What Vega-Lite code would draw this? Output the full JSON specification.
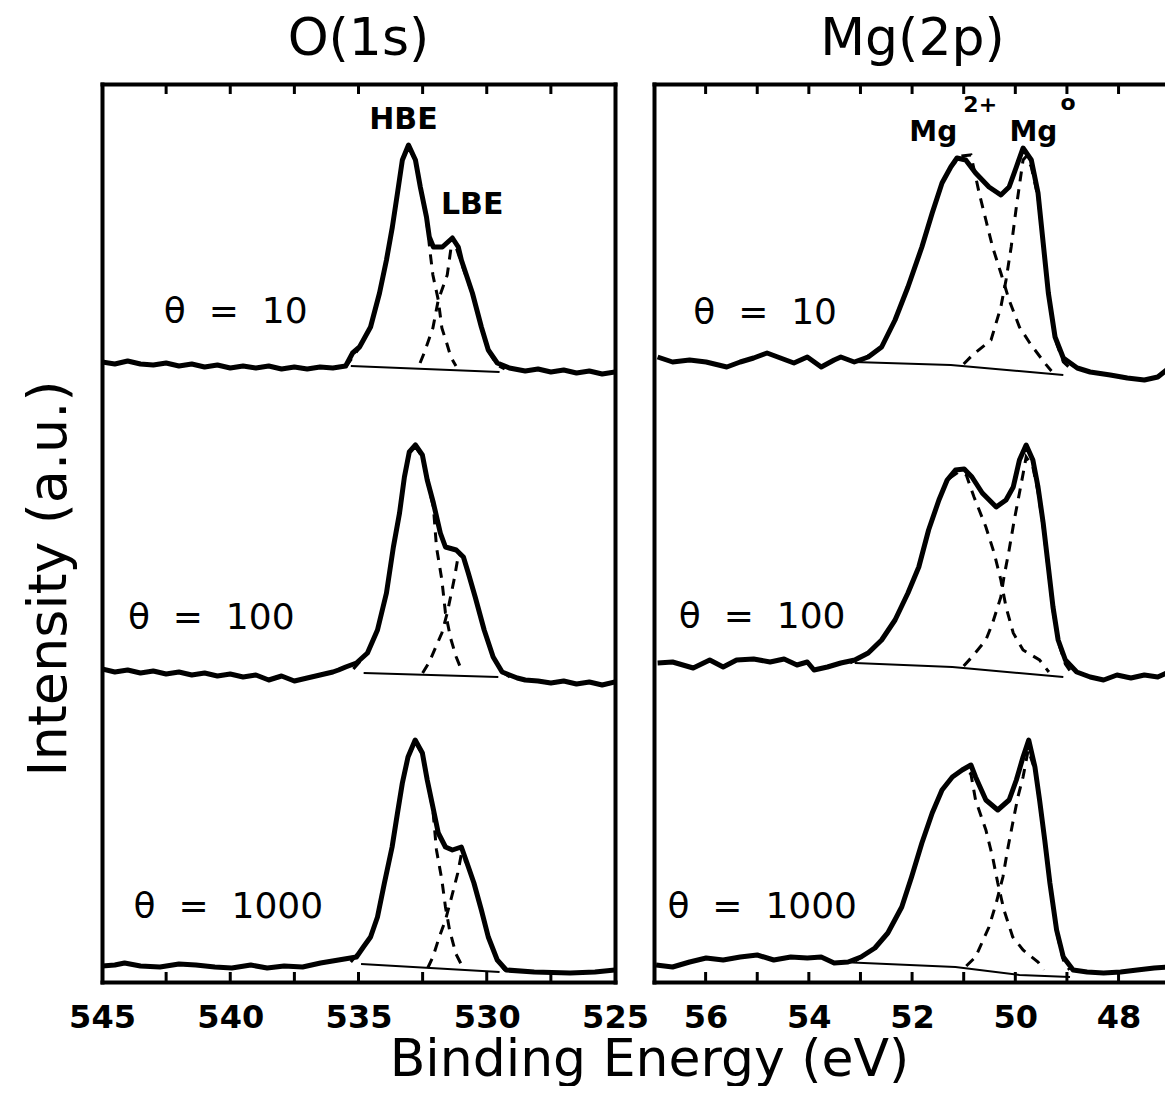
{
"$schema": "https://vega.github.io/schema/vega-lite/v6.json",
"background": "white",
"padding": {"left": 22, "top": 13, "right": 0, "bottom": 0},
"bounds": "flush",
"spacing": 39,
"config": {
  "view": {"stroke": null},
  "font": "DejaVu Sans",
  "axis": {"grid": false, "domainColor": "black", "domainWidth": 4, "domainCap": "square", "tickColor": "black", "tickWidth": 3, "labelColor": "black", "titleColor": "black"}
},
"title": {"text": "Binding Energy (eV)", "orient": "bottom", "anchor": "middle", "fontSize": 52, "fontWeight": "normal", "font": "DejaVu Sans", "color": "black", "offset": 2, "dx": 56},
"datasets": {
"O": [
{"theta":"10","series":"data","E":545,"I":620},{"theta":"10","series":"data","E":544.5,"I":618},{"theta":"10","series":"data","E":544,"I":621},{"theta":"10","series":"data","E":543.5,"I":618},{"theta":"10","series":"data","E":543,"I":617},{"theta":"10","series":"data","E":542.5,"I":619},{"theta":"10","series":"data","E":542,"I":616},{"theta":"10","series":"data","E":541.5,"I":618},{"theta":"10","series":"data","E":541,"I":615},{"theta":"10","series":"data","E":540.5,"I":617},{"theta":"10","series":"data","E":540,"I":614},{"theta":"10","series":"data","E":539.5,"I":616},{"theta":"10","series":"data","E":539,"I":614},{"theta":"10","series":"data","E":538.5,"I":616},{"theta":"10","series":"data","E":538,"I":613},{"theta":"10","series":"data","E":537.5,"I":615},{"theta":"10","series":"data","E":537,"I":613},{"theta":"10","series":"data","E":536.5,"I":615},{"theta":"10","series":"data","E":536,"I":614},{"theta":"10","series":"data","E":535.5,"I":616},{"theta":"10","series":"data","E":535.23,"I":629},{"theta":"10","series":"data","E":534.96,"I":635},{"theta":"10","series":"data","E":534.53,"I":655},{"theta":"10","series":"data","E":534.18,"I":689},{"theta":"10","series":"data","E":533.91,"I":722},{"theta":"10","series":"data","E":533.68,"I":755},{"theta":"10","series":"data","E":533.48,"I":789},{"theta":"10","series":"data","E":533.29,"I":822},{"theta":"10","series":"data","E":533.05,"I":837},{"theta":"10","series":"data","E":532.78,"I":822},{"theta":"10","series":"data","E":532.59,"I":795},{"theta":"10","series":"data","E":532.35,"I":765},{"theta":"10","series":"data","E":532.24,"I":745},{"theta":"10","series":"data","E":532.08,"I":735},{"theta":"10","series":"data","E":531.73,"I":735},{"theta":"10","series":"data","E":531.34,"I":744},{"theta":"10","series":"data","E":531.11,"I":735},{"theta":"10","series":"data","E":530.99,"I":722},{"theta":"10","series":"data","E":530.56,"I":689},{"theta":"10","series":"data","E":530.21,"I":655},{"theta":"10","series":"data","E":529.94,"I":632},{"theta":"10","series":"data","E":529.59,"I":619},{"theta":"10","series":"data","E":529.12,"I":614},{"theta":"10","series":"data","E":528.5,"I":611},{"theta":"10","series":"data","E":528,"I":613},{"theta":"10","series":"data","E":527.5,"I":610},{"theta":"10","series":"data","E":527,"I":612},{"theta":"10","series":"data","E":526.5,"I":609},{"theta":"10","series":"data","E":526,"I":611},{"theta":"10","series":"data","E":525.5,"I":608},{"theta":"10","series":"data","E":525,"I":610},
{"theta":"10","series":"bg","E":535.3,"I":616},{"theta":"10","series":"bg","E":529.5,"I":610},
{"theta":"10","series":"c1","E":535.5,"I":615},{"theta":"10","series":"c1","E":535.0,"I":633},{"theta":"10","series":"c1","E":534.53,"I":655},{"theta":"10","series":"c1","E":534.18,"I":689},{"theta":"10","series":"c1","E":533.91,"I":722},{"theta":"10","series":"c1","E":533.68,"I":755},{"theta":"10","series":"c1","E":533.48,"I":789},{"theta":"10","series":"c1","E":533.29,"I":822},{"theta":"10","series":"c1","E":533.05,"I":835},{"theta":"10","series":"c1","E":532.78,"I":821},{"theta":"10","series":"c1","E":532.59,"I":794},{"theta":"10","series":"c1","E":532.35,"I":763},{"theta":"10","series":"c1","E":532.2,"I":728},{"theta":"10","series":"c1","E":532.1,"I":707},{"theta":"10","series":"c1","E":531.89,"I":682},{"theta":"10","series":"c1","E":531.75,"I":654},{"theta":"10","series":"c1","E":531.55,"I":638},{"theta":"10","series":"c1","E":531.4,"I":625},{"theta":"10","series":"c1","E":531.2,"I":616},
{"theta":"10","series":"c2","E":532.6,"I":619},{"theta":"10","series":"c2","E":532.44,"I":629},{"theta":"10","series":"c2","E":532.1,"I":654},{"theta":"10","series":"c2","E":531.89,"I":682},{"theta":"10","series":"c2","E":531.54,"I":707},{"theta":"10","series":"c2","E":531.4,"I":733},{"theta":"10","series":"c2","E":531.2,"I":735},{"theta":"10","series":"c2","E":530.99,"I":719},{"theta":"10","series":"c2","E":530.56,"I":688},{"theta":"10","series":"c2","E":530.21,"I":654},{"theta":"10","series":"c2","E":529.94,"I":631},{"theta":"10","series":"c2","E":529.59,"I":617},{"theta":"10","series":"c2","E":529.3,"I":613},
{"theta":"100","series":"data","E":545,"I":313},{"theta":"100","series":"data","E":544.5,"I":310},{"theta":"100","series":"data","E":544,"I":312},{"theta":"100","series":"data","E":543.5,"I":309},{"theta":"100","series":"data","E":543,"I":311},{"theta":"100","series":"data","E":542.5,"I":308},{"theta":"100","series":"data","E":542,"I":310},{"theta":"100","series":"data","E":541.5,"I":307},{"theta":"100","series":"data","E":541,"I":309},{"theta":"100","series":"data","E":540.5,"I":306},{"theta":"100","series":"data","E":540,"I":308},{"theta":"100","series":"data","E":539.5,"I":305},{"theta":"100","series":"data","E":539,"I":307},{"theta":"100","series":"data","E":538.5,"I":302},{"theta":"100","series":"data","E":538,"I":306},{"theta":"100","series":"data","E":537.5,"I":301},{"theta":"100","series":"data","E":537,"I":304},{"theta":"100","series":"data","E":536.5,"I":307},{"theta":"100","series":"data","E":536,"I":310},{"theta":"100","series":"data","E":535.78,"I":312},{"theta":"100","series":"data","E":535.5,"I":315},{"theta":"100","series":"data","E":535.08,"I":319},{"theta":"100","series":"data","E":534.65,"I":329},{"theta":"100","series":"data","E":534.26,"I":352},{"theta":"100","series":"data","E":533.91,"I":389},{"theta":"100","series":"data","E":533.64,"I":435},{"theta":"100","series":"data","E":533.4,"I":469},{"theta":"100","series":"data","E":533.21,"I":505},{"theta":"100","series":"data","E":533.02,"I":530},{"theta":"100","series":"data","E":532.78,"I":537},{"theta":"100","series":"data","E":532.51,"I":527},{"theta":"100","series":"data","E":532.32,"I":502},{"theta":"100","series":"data","E":532.08,"I":479},{"theta":"100","series":"data","E":531.81,"I":449},{"theta":"100","series":"data","E":531.61,"I":435},{"theta":"100","series":"data","E":531.19,"I":432},{"theta":"100","series":"data","E":530.91,"I":425},{"theta":"100","series":"data","E":530.72,"I":409},{"theta":"100","series":"data","E":530.45,"I":385},{"theta":"100","series":"data","E":530.1,"I":352},{"theta":"100","series":"data","E":529.75,"I":325},{"theta":"100","series":"data","E":529.4,"I":310},{"theta":"100","series":"data","E":528.81,"I":304},{"theta":"100","series":"data","E":528.5,"I":302},{"theta":"100","series":"data","E":528,"I":301},{"theta":"100","series":"data","E":527.5,"I":299},{"theta":"100","series":"data","E":527,"I":301},{"theta":"100","series":"data","E":526.5,"I":298},{"theta":"100","series":"data","E":526,"I":300},{"theta":"100","series":"data","E":525.5,"I":297},{"theta":"100","series":"data","E":525,"I":300},
{"theta":"100","series":"bg","E":534.8,"I":309},{"theta":"100","series":"bg","E":529.55,"I":305},
{"theta":"100","series":"c1","E":535.2,"I":313},{"theta":"100","series":"c1","E":534.65,"I":329},{"theta":"100","series":"c1","E":534.26,"I":352},{"theta":"100","series":"c1","E":533.91,"I":389},{"theta":"100","series":"c1","E":533.64,"I":435},{"theta":"100","series":"c1","E":533.4,"I":469},{"theta":"100","series":"c1","E":533.21,"I":505},{"theta":"100","series":"c1","E":533.02,"I":530},{"theta":"100","series":"c1","E":532.78,"I":535},{"theta":"100","series":"c1","E":532.51,"I":525},{"theta":"100","series":"c1","E":532.32,"I":501},{"theta":"100","series":"c1","E":532.08,"I":475},{"theta":"100","series":"c1","E":531.96,"I":435},{"theta":"100","series":"c1","E":531.75,"I":402},{"theta":"100","series":"c1","E":531.61,"I":369},{"theta":"100","series":"c1","E":531.4,"I":343},{"theta":"100","series":"c1","E":531.19,"I":325},{"theta":"100","series":"c1","E":531.0,"I":313},
{"theta":"100","series":"c2","E":532.5,"I":309},{"theta":"100","series":"c2","E":532.24,"I":320},{"theta":"100","series":"c2","E":531.75,"I":349},{"theta":"100","series":"c2","E":531.54,"I":369},{"theta":"100","series":"c2","E":531.26,"I":404},{"theta":"100","series":"c2","E":531.1,"I":428},{"theta":"100","series":"c2","E":530.91,"I":425},{"theta":"100","series":"c2","E":530.72,"I":409},{"theta":"100","series":"c2","E":530.45,"I":385},{"theta":"100","series":"c2","E":530.1,"I":352},{"theta":"100","series":"c2","E":529.75,"I":325},{"theta":"100","series":"c2","E":529.4,"I":310},{"theta":"100","series":"c2","E":529.1,"I":305},
{"theta":"1000","series":"data","E":545,"I":16},{"theta":"1000","series":"data","E":544.5,"I":17},{"theta":"1000","series":"data","E":544.12,"I":19},{"theta":"1000","series":"data","E":543.5,"I":16},{"theta":"1000","series":"data","E":542.74,"I":15},{"theta":"1000","series":"data","E":542,"I":18},{"theta":"1000","series":"data","E":541.34,"I":17},{"theta":"1000","series":"data","E":540.6,"I":15},{"theta":"1000","series":"data","E":539.94,"I":14},{"theta":"1000","series":"data","E":539.2,"I":17},{"theta":"1000","series":"data","E":538.56,"I":14},{"theta":"1000","series":"data","E":537.9,"I":16},{"theta":"1000","series":"data","E":537.18,"I":15},{"theta":"1000","series":"data","E":536.48,"I":19},{"theta":"1000","series":"data","E":535.78,"I":22},{"theta":"1000","series":"data","E":535.08,"I":25},{"theta":"1000","series":"data","E":534.81,"I":35},{"theta":"1000","series":"data","E":534.53,"I":45},{"theta":"1000","series":"data","E":534.26,"I":65},{"theta":"1000","series":"data","E":533.99,"I":99},{"theta":"1000","series":"data","E":533.69,"I":135},{"theta":"1000","series":"data","E":533.48,"I":169},{"theta":"1000","series":"data","E":533.29,"I":199},{"theta":"1000","series":"data","E":533.07,"I":225},{"theta":"1000","series":"data","E":532.79,"I":242},{"theta":"1000","series":"data","E":532.51,"I":229},{"theta":"1000","series":"data","E":532.32,"I":202},{"theta":"1000","series":"data","E":532.1,"I":175},{"theta":"1000","series":"data","E":531.89,"I":149},{"theta":"1000","series":"data","E":531.61,"I":135},{"theta":"1000","series":"data","E":531.34,"I":132},{"theta":"1000","series":"data","E":530.99,"I":135},{"theta":"1000","series":"data","E":530.77,"I":119},{"theta":"1000","series":"data","E":530.5,"I":99},{"theta":"1000","series":"data","E":530.21,"I":72},{"theta":"1000","series":"data","E":529.94,"I":45},{"theta":"1000","series":"data","E":529.59,"I":22},{"theta":"1000","series":"data","E":529.24,"I":12},{"theta":"1000","series":"data","E":528.15,"I":10},{"theta":"1000","series":"data","E":526.75,"I":9},{"theta":"1000","series":"data","E":525.78,"I":10},{"theta":"1000","series":"data","E":525,"I":12},
{"theta":"1000","series":"bg","E":534.9,"I":18},{"theta":"1000","series":"bg","E":529.5,"I":10},
{"theta":"1000","series":"c1","E":535.3,"I":20},{"theta":"1000","series":"c1","E":534.81,"I":35},{"theta":"1000","series":"c1","E":534.53,"I":45},{"theta":"1000","series":"c1","E":534.26,"I":65},{"theta":"1000","series":"c1","E":533.99,"I":99},{"theta":"1000","series":"c1","E":533.69,"I":135},{"theta":"1000","series":"c1","E":533.48,"I":169},{"theta":"1000","series":"c1","E":533.29,"I":199},{"theta":"1000","series":"c1","E":533.07,"I":225},{"theta":"1000","series":"c1","E":532.79,"I":240},{"theta":"1000","series":"c1","E":532.51,"I":228},{"theta":"1000","series":"c1","E":532.32,"I":201},{"theta":"1000","series":"c1","E":532.1,"I":172},{"theta":"1000","series":"c1","E":531.96,"I":132},{"theta":"1000","series":"c1","E":531.75,"I":102},{"theta":"1000","series":"c1","E":531.61,"I":75},{"theta":"1000","series":"c1","E":531.45,"I":52},{"theta":"1000","series":"c1","E":531.2,"I":28},{"theta":"1000","series":"c1","E":531.0,"I":18},
{"theta":"1000","series":"c2","E":532.3,"I":14},{"theta":"1000","series":"c2","E":532.1,"I":25},{"theta":"1000","series":"c2","E":531.85,"I":45},{"theta":"1000","series":"c2","E":531.61,"I":62},{"theta":"1000","series":"c2","E":531.4,"I":82},{"theta":"1000","series":"c2","E":531.13,"I":109},{"theta":"1000","series":"c2","E":530.99,"I":128},{"theta":"1000","series":"c2","E":530.77,"I":118},{"theta":"1000","series":"c2","E":530.5,"I":99},{"theta":"1000","series":"c2","E":530.21,"I":72},{"theta":"1000","series":"c2","E":529.94,"I":45},{"theta":"1000","series":"c2","E":529.59,"I":22},{"theta":"1000","series":"c2","E":529.3,"I":12}
],
"Mg": [
{"theta":"10","series":"data","E":56.93,"I":625},{"theta":"10","series":"data","E":56.64,"I":620},{"theta":"10","series":"data","E":56.31,"I":622},{"theta":"10","series":"data","E":55.99,"I":620},{"theta":"10","series":"data","E":55.59,"I":615},{"theta":"10","series":"data","E":55.33,"I":620},{"theta":"10","series":"data","E":55.07,"I":624},{"theta":"10","series":"data","E":54.81,"I":629},{"theta":"10","series":"data","E":54.55,"I":624},{"theta":"10","series":"data","E":54.29,"I":619},{"theta":"10","series":"data","E":54.03,"I":625},{"theta":"10","series":"data","E":53.76,"I":615},{"theta":"10","series":"data","E":53.51,"I":622},{"theta":"10","series":"data","E":53.38,"I":625},{"theta":"10","series":"data","E":53.12,"I":620},{"theta":"10","series":"data","E":52.85,"I":625},{"theta":"10","series":"data","E":52.59,"I":635},{"theta":"10","series":"data","E":52.33,"I":662},{"theta":"10","series":"data","E":52.08,"I":695},{"theta":"10","series":"data","E":51.81,"I":735},{"theta":"10","series":"data","E":51.61,"I":769},{"theta":"10","series":"data","E":51.42,"I":799},{"theta":"10","series":"data","E":51.25,"I":815},{"theta":"10","series":"data","E":51.13,"I":824},{"theta":"10","series":"data","E":50.96,"I":822},{"theta":"10","series":"data","E":50.77,"I":809},{"theta":"10","series":"data","E":50.51,"I":795},{"theta":"10","series":"data","E":50.28,"I":787},{"theta":"10","series":"data","E":50.12,"I":795},{"theta":"10","series":"data","E":49.98,"I":815},{"theta":"10","series":"data","E":49.85,"I":834},{"theta":"10","series":"data","E":49.69,"I":822},{"theta":"10","series":"data","E":49.56,"I":789},{"theta":"10","series":"data","E":49.46,"I":739},{"theta":"10","series":"data","E":49.36,"I":689},{"theta":"10","series":"data","E":49.23,"I":645},{"theta":"10","series":"data","E":49.07,"I":624},{"theta":"10","series":"data","E":48.8,"I":614},{"theta":"10","series":"data","E":48.55,"I":610},{"theta":"10","series":"data","E":48.16,"I":607},{"theta":"10","series":"data","E":47.83,"I":604},{"theta":"10","series":"data","E":47.5,"I":602},{"theta":"10","series":"data","E":47.24,"I":605},{"theta":"10","series":"data","E":47.07,"I":612},
{"theta":"10","series":"bg","E":53.12,"I":620},{"theta":"10","series":"bg","E":51.25,"I":617},{"theta":"10","series":"bg","E":49.07,"I":607},
{"theta":"10","series":"c1","E":53.0,"I":621},{"theta":"10","series":"c1","E":52.59,"I":635},{"theta":"10","series":"c1","E":52.33,"I":662},{"theta":"10","series":"c1","E":52.08,"I":695},{"theta":"10","series":"c1","E":51.81,"I":735},{"theta":"10","series":"c1","E":51.61,"I":769},{"theta":"10","series":"c1","E":51.42,"I":799},{"theta":"10","series":"c1","E":51.25,"I":815},{"theta":"10","series":"c1","E":51.05,"I":826},{"theta":"10","series":"c1","E":50.86,"I":827},{"theta":"10","series":"c1","E":50.7,"I":789},{"theta":"10","series":"c1","E":50.57,"I":762},{"theta":"10","series":"c1","E":50.44,"I":735},{"theta":"10","series":"c1","E":50.28,"I":709},{"theta":"10","series":"c1","E":50.12,"I":682},{"theta":"10","series":"c1","E":49.92,"I":655},{"theta":"10","series":"c1","E":49.72,"I":639},{"theta":"10","series":"c1","E":49.43,"I":619},{"theta":"10","series":"c1","E":49.3,"I":611},
{"theta":"10","series":"c2","E":51.0,"I":618},{"theta":"10","series":"c2","E":50.83,"I":627},{"theta":"10","series":"c2","E":50.47,"I":642},{"theta":"10","series":"c2","E":50.28,"I":675},{"theta":"10","series":"c2","E":50.18,"I":702},{"theta":"10","series":"c2","E":50.08,"I":735},{"theta":"10","series":"c2","E":49.98,"I":775},{"theta":"10","series":"c2","E":49.85,"I":822},{"theta":"10","series":"c2","E":49.78,"I":826},{"theta":"10","series":"c2","E":49.69,"I":815},{"theta":"10","series":"c2","E":49.56,"I":785},{"theta":"10","series":"c2","E":49.46,"I":737},{"theta":"10","series":"c2","E":49.36,"I":688},{"theta":"10","series":"c2","E":49.23,"I":643},{"theta":"10","series":"c2","E":49.07,"I":620},{"theta":"10","series":"c2","E":48.9,"I":612},
{"theta":"100","series":"data","E":56.93,"I":319},{"theta":"100","series":"data","E":56.64,"I":320},{"theta":"100","series":"data","E":56.24,"I":314},{"theta":"100","series":"data","E":55.92,"I":322},{"theta":"100","series":"data","E":55.66,"I":315},{"theta":"100","series":"data","E":55.4,"I":322},{"theta":"100","series":"data","E":55.07,"I":323},{"theta":"100","series":"data","E":54.75,"I":320},{"theta":"100","series":"data","E":54.48,"I":323},{"theta":"100","series":"data","E":54.23,"I":317},{"theta":"100","series":"data","E":54.03,"I":320},{"theta":"100","series":"data","E":53.9,"I":312},{"theta":"100","series":"data","E":53.64,"I":315},{"theta":"100","series":"data","E":53.38,"I":319},{"theta":"100","series":"data","E":53.11,"I":322},{"theta":"100","series":"data","E":52.85,"I":329},{"theta":"100","series":"data","E":52.59,"I":342},{"theta":"100","series":"data","E":52.33,"I":362},{"theta":"100","series":"data","E":52.08,"I":389},{"theta":"100","series":"data","E":51.87,"I":415},{"theta":"100","series":"data","E":51.68,"I":452},{"theta":"100","series":"data","E":51.48,"I":482},{"theta":"100","series":"data","E":51.32,"I":502},{"theta":"100","series":"data","E":51.16,"I":512},{"theta":"100","series":"data","E":50.99,"I":513},{"theta":"100","series":"data","E":50.84,"I":505},{"theta":"100","series":"data","E":50.64,"I":489},{"theta":"100","series":"data","E":50.37,"I":475},{"theta":"100","series":"data","E":50.18,"I":482},{"theta":"100","series":"data","E":50.04,"I":495},{"theta":"100","series":"data","E":49.92,"I":522},{"theta":"100","series":"data","E":49.79,"I":537},{"theta":"100","series":"data","E":49.66,"I":522},{"theta":"100","series":"data","E":49.56,"I":495},{"theta":"100","series":"data","E":49.46,"I":459},{"theta":"100","series":"data","E":49.36,"I":415},{"theta":"100","series":"data","E":49.27,"I":375},{"theta":"100","series":"data","E":49.17,"I":342},{"theta":"100","series":"data","E":49.03,"I":322},{"theta":"100","series":"data","E":48.81,"I":310},{"theta":"100","series":"data","E":48.55,"I":305},{"theta":"100","series":"data","E":48.29,"I":302},{"theta":"100","series":"data","E":48.03,"I":307},{"theta":"100","series":"data","E":47.76,"I":304},{"theta":"100","series":"data","E":47.5,"I":307},{"theta":"100","series":"data","E":47.24,"I":305},{"theta":"100","series":"data","E":47.07,"I":309},
{"theta":"100","series":"bg","E":53.11,"I":319},{"theta":"100","series":"bg","E":51.22,"I":315},{"theta":"100","series":"bg","E":49.07,"I":305},
{"theta":"100","series":"c1","E":53.2,"I":319},{"theta":"100","series":"c1","E":52.85,"I":329},{"theta":"100","series":"c1","E":52.59,"I":342},{"theta":"100","series":"c1","E":52.33,"I":362},{"theta":"100","series":"c1","E":52.08,"I":389},{"theta":"100","series":"c1","E":51.87,"I":415},{"theta":"100","series":"c1","E":51.68,"I":452},{"theta":"100","series":"c1","E":51.48,"I":482},{"theta":"100","series":"c1","E":51.32,"I":502},{"theta":"100","series":"c1","E":51.1,"I":510},{"theta":"100","series":"c1","E":50.95,"I":507},{"theta":"100","series":"c1","E":50.8,"I":485},{"theta":"100","series":"c1","E":50.57,"I":455},{"theta":"100","series":"c1","E":50.41,"I":429},{"theta":"100","series":"c1","E":50.28,"I":402},{"theta":"100","series":"c1","E":50.18,"I":375},{"theta":"100","series":"c1","E":50.04,"I":349},{"theta":"100","series":"c1","E":49.85,"I":332},{"theta":"100","series":"c1","E":49.53,"I":322},{"theta":"100","series":"c1","E":49.35,"I":310},
{"theta":"100","series":"c2","E":51.0,"I":316},{"theta":"100","series":"c2","E":50.84,"I":325},{"theta":"100","series":"c2","E":50.57,"I":342},{"theta":"100","series":"c2","E":50.44,"I":359},{"theta":"100","series":"c2","E":50.28,"I":385},{"theta":"100","series":"c2","E":50.22,"I":405},{"theta":"100","series":"c2","E":50.12,"I":432},{"theta":"100","series":"c2","E":50.02,"I":462},{"theta":"100","series":"c2","E":49.92,"I":489},{"theta":"100","series":"c2","E":49.85,"I":508},{"theta":"100","series":"c2","E":49.79,"I":525},{"theta":"100","series":"c2","E":49.66,"I":515},{"theta":"100","series":"c2","E":49.56,"I":490},{"theta":"100","series":"c2","E":49.46,"I":455},{"theta":"100","series":"c2","E":49.36,"I":412},{"theta":"100","series":"c2","E":49.27,"I":372},{"theta":"100","series":"c2","E":49.17,"I":340},{"theta":"100","series":"c2","E":49.03,"I":318},{"theta":"100","series":"c2","E":48.9,"I":308},
{"theta":"1000","series":"data","E":56.96,"I":17},{"theta":"1000","series":"data","E":56.64,"I":15},{"theta":"1000","series":"data","E":56.31,"I":20},{"theta":"1000","series":"data","E":55.99,"I":24},{"theta":"1000","series":"data","E":55.66,"I":22},{"theta":"1000","series":"data","E":55.33,"I":25},{"theta":"1000","series":"data","E":55.0,"I":27},{"theta":"1000","series":"data","E":54.68,"I":22},{"theta":"1000","series":"data","E":54.35,"I":25},{"theta":"1000","series":"data","E":54.03,"I":24},{"theta":"1000","series":"data","E":53.76,"I":25},{"theta":"1000","series":"data","E":53.51,"I":19},{"theta":"1000","series":"data","E":53.24,"I":20},{"theta":"1000","series":"data","E":52.99,"I":25},{"theta":"1000","series":"data","E":52.72,"I":34},{"theta":"1000","series":"data","E":52.47,"I":49},{"theta":"1000","series":"data","E":52.2,"I":75},{"theta":"1000","series":"data","E":52.01,"I":105},{"theta":"1000","series":"data","E":51.81,"I":139},{"theta":"1000","series":"data","E":51.61,"I":169},{"theta":"1000","series":"data","E":51.42,"I":192},{"theta":"1000","series":"data","E":51.22,"I":205},{"theta":"1000","series":"data","E":51.03,"I":212},{"theta":"1000","series":"data","E":50.86,"I":217},{"theta":"1000","series":"data","E":50.77,"I":205},{"theta":"1000","series":"data","E":50.57,"I":182},{"theta":"1000","series":"data","E":50.34,"I":172},{"theta":"1000","series":"data","E":50.12,"I":182},{"theta":"1000","series":"data","E":49.98,"I":202},{"theta":"1000","series":"data","E":49.85,"I":225},{"theta":"1000","series":"data","E":49.74,"I":242},{"theta":"1000","series":"data","E":49.62,"I":215},{"theta":"1000","series":"data","E":49.53,"I":182},{"theta":"1000","series":"data","E":49.43,"I":142},{"theta":"1000","series":"data","E":49.33,"I":99},{"theta":"1000","series":"data","E":49.2,"I":52},{"theta":"1000","series":"data","E":49.07,"I":25},{"theta":"1000","series":"data","E":48.88,"I":12},{"theta":"1000","series":"data","E":48.61,"I":10},{"theta":"1000","series":"data","E":48.29,"I":9},{"theta":"1000","series":"data","E":47.96,"I":10},{"theta":"1000","series":"data","E":47.64,"I":12},{"theta":"1000","series":"data","E":47.31,"I":14},{"theta":"1000","series":"data","E":47.06,"I":15},
{"theta":"1000","series":"bg","E":53.38,"I":20},{"theta":"1000","series":"bg","E":51.16,"I":15},{"theta":"1000","series":"bg","E":49.92,"I":7},{"theta":"1000","series":"bg","E":48.94,"I":5},
{"theta":"1000","series":"c1","E":53.1,"I":21},{"theta":"1000","series":"c1","E":52.72,"I":34},{"theta":"1000","series":"c1","E":52.47,"I":49},{"theta":"1000","series":"c1","E":52.2,"I":75},{"theta":"1000","series":"c1","E":52.01,"I":105},{"theta":"1000","series":"c1","E":51.81,"I":139},{"theta":"1000","series":"c1","E":51.61,"I":169},{"theta":"1000","series":"c1","E":51.42,"I":192},{"theta":"1000","series":"c1","E":51.22,"I":205},{"theta":"1000","series":"c1","E":50.98,"I":213},{"theta":"1000","series":"c1","E":50.86,"I":208},{"theta":"1000","series":"c1","E":50.77,"I":182},{"theta":"1000","series":"c1","E":50.57,"I":152},{"theta":"1000","series":"c1","E":50.44,"I":125},{"theta":"1000","series":"c1","E":50.34,"I":99},{"theta":"1000","series":"c1","E":50.22,"I":72},{"theta":"1000","series":"c1","E":50.05,"I":45},{"theta":"1000","series":"c1","E":49.85,"I":32},{"theta":"1000","series":"c1","E":49.56,"I":20},{"theta":"1000","series":"c1","E":49.45,"I":12},
{"theta":"1000","series":"c2","E":50.95,"I":16},{"theta":"1000","series":"c2","E":50.77,"I":25},{"theta":"1000","series":"c2","E":50.51,"I":55},{"theta":"1000","series":"c2","E":50.37,"I":79},{"theta":"1000","series":"c2","E":50.24,"I":105},{"theta":"1000","series":"c2","E":50.14,"I":135},{"theta":"1000","series":"c2","E":50.05,"I":159},{"theta":"1000","series":"c2","E":49.95,"I":185},{"theta":"1000","series":"c2","E":49.85,"I":205},{"theta":"1000","series":"c2","E":49.75,"I":232},{"theta":"1000","series":"c2","E":49.62,"I":212},{"theta":"1000","series":"c2","E":49.53,"I":180},{"theta":"1000","series":"c2","E":49.43,"I":140},{"theta":"1000","series":"c2","E":49.33,"I":98},{"theta":"1000","series":"c2","E":49.2,"I":50},{"theta":"1000","series":"c2","E":49.07,"I":22},{"theta":"1000","series":"c2","E":48.95,"I":12}
],
"Olab": [
{"kind":"peak","text":"HBE","E":533.25,"I":862},
{"kind":"peak","text":"LBE","E":530.57,"I":777},
{"kind":"theta","text":"θ\u00a0\u00a0=\u00a0\u00a010","E":542.59,"I":670},
{"kind":"theta","text":"θ\u00a0\u00a0=\u00a0\u00a0100","E":543.99,"I":364},
{"kind":"theta","text":"θ\u00a0\u00a0=\u00a0\u00a01000","E":543.77,"I":75}
],
"Mglab": [
{"kind":"peak","text":"Mg","E":51.59,"I":849},
{"kind":"sup","text":"2+","E":50.68,"I":877},
{"kind":"peak","text":"Mg","E":49.65,"I":849},
{"kind":"sup","text":"o","E":48.98,"I":879},
{"kind":"theta","text":"θ\u00a0\u00a0=\u00a0\u00a010","E":56.24,"I":669},
{"kind":"theta","text":"θ\u00a0\u00a0=\u00a0\u00a0100","E":56.52,"I":365},
{"kind":"theta","text":"θ\u00a0\u00a0=\u00a0\u00a01000","E":56.74,"I":75}
],
"Oticks": [
{"side":"bottom","E":542.5,"I":0},{"side":"bottom","E":540,"I":0},{"side":"bottom","E":537.5,"I":0},{"side":"bottom","E":535,"I":0},{"side":"bottom","E":532.5,"I":0},{"side":"bottom","E":530,"I":0},{"side":"bottom","E":527.5,"I":0},
{"side":"top","E":542.5,"I":898},{"side":"top","E":540,"I":898},{"side":"top","E":537.5,"I":898},{"side":"top","E":535,"I":898},{"side":"top","E":532.5,"I":898},{"side":"top","E":530,"I":898},{"side":"top","E":527.5,"I":898}
],
"Mgticks": [
{"side":"bottom","E":56,"I":0},{"side":"bottom","E":55,"I":0},{"side":"bottom","E":54,"I":0},{"side":"bottom","E":53,"I":0},{"side":"bottom","E":52,"I":0},{"side":"bottom","E":51,"I":0},{"side":"bottom","E":50,"I":0},{"side":"bottom","E":49,"I":0},{"side":"bottom","E":48,"I":0},
{"side":"top","E":56,"I":898},{"side":"top","E":55,"I":898},{"side":"top","E":54,"I":898},{"side":"top","E":53,"I":898},{"side":"top","E":52,"I":898},{"side":"top","E":51,"I":898},{"side":"top","E":50,"I":898},{"side":"top","E":49,"I":898},{"side":"top","E":48,"I":898}
]
},
"hconcat": [
{
 "width": 513, "height": 898,
 "title": {"text": "O(1s)", "fontSize": 52, "fontWeight": "normal", "font": "DejaVu Sans", "color": "black", "offset": 12, "anchor": "middle"},
 "data": {"name": "O"},
 "resolve": {"axis": {"x": "independent", "y": "independent"}},
 "layer": [
  {"transform": [{"filter": "datum.series == 'c1' || datum.series == 'c2'"}],
   "mark": {"type": "line", "strokeDash": [10, 8], "strokeWidth": 3, "color": "black", "clip": true},
   "encoding": {
    "x": {"field": "E", "type": "quantitative", "scale": {"domain": [545, 525], "nice": false, "zero": false},
      "axis": {"orient": "bottom", "values": [545, 540, 535, 530, 525], "format": "d", "ticks": false, "labelPadding": 20, "labelFontSize": 32, "labelFontWeight": "bold", "labelFont": "DejaVu Sans", "labelFlush": false, "labelOverlap": false, "title": null}},
    "y": {"field": "I", "type": "quantitative", "scale": {"domain": [0, 898], "nice": false, "zero": false},
      "axis": {"orient": "left", "labels": false, "ticks": false, "title": "Intensity (a.u.)", "titleFontSize": 54, "titleFontWeight": "normal", "titleFont": "DejaVu Sans", "titlePadding": 26, "titleY": 494}},
    "detail": [{"field": "theta"}, {"field": "series"}]
   }},
  {"transform": [{"filter": "datum.series == 'bg'"}],
   "mark": {"type": "line", "strokeWidth": 2, "color": "black", "clip": true},
   "encoding": {
    "x": {"field": "E", "type": "quantitative", "axis": {"orient": "top", "values": [545, 525], "labels": false, "ticks": false, "title": null}},
    "y": {"field": "I", "type": "quantitative", "axis": {"orient": "right", "labels": false, "ticks": false, "title": null}},
    "detail": {"field": "theta"}
   }},
  {"transform": [{"filter": "datum.series == 'data'"}],
   "mark": {"type": "line", "strokeWidth": 5, "color": "black", "strokeJoin": "round", "clip": true},
   "encoding": {
    "x": {"field": "E", "type": "quantitative", "axis": null},
    "y": {"field": "I", "type": "quantitative", "axis": null},
    "detail": {"field": "theta"}
   }},
  {"data": {"name": "Oticks"}, "transform": [{"filter": "datum.side == 'bottom'"}],
   "mark": {"type": "point", "shape": "M0,0L0,-1", "size": 400, "strokeWidth": 3, "filled": false, "color": "black", "opacity": 1},
   "encoding": {"x": {"field": "E", "type": "quantitative", "axis": null}, "y": {"field": "I", "type": "quantitative", "axis": null}}},
  {"data": {"name": "Oticks"}, "transform": [{"filter": "datum.side == 'top'"}],
   "mark": {"type": "point", "shape": "M0,0L0,1", "size": 400, "strokeWidth": 3, "filled": false, "color": "black", "opacity": 1},
   "encoding": {"x": {"field": "E", "type": "quantitative", "axis": null}, "y": {"field": "I", "type": "quantitative", "axis": null}}},
  {"data": {"name": "Olab"}, "transform": [{"filter": "datum.kind == 'peak'"}],
   "mark": {"type": "text", "fontSize": 30, "fontWeight": "bold", "font": "DejaVu Sans", "align": "center", "baseline": "middle", "color": "black"},
   "encoding": {"x": {"field": "E", "type": "quantitative", "axis": null}, "y": {"field": "I", "type": "quantitative", "axis": null}, "text": {"field": "text"}}},
  {"data": {"name": "Olab"}, "transform": [{"filter": "datum.kind == 'theta'"}],
   "mark": {"type": "text", "fontSize": 36, "font": "DejaVu Sans", "align": "left", "baseline": "middle", "color": "black"},
   "encoding": {"x": {"field": "E", "type": "quantitative", "axis": null}, "y": {"field": "I", "type": "quantitative", "axis": null}, "text": {"field": "text"}}}
 ]
},
{
 "width": 511, "height": 898,
 "title": {"text": "Mg(2p)", "fontSize": 52, "fontWeight": "normal", "font": "DejaVu Sans", "color": "black", "offset": 12, "anchor": "middle", "dx": 3},
 "data": {"name": "Mg"},
 "resolve": {"axis": {"x": "independent", "y": "independent"}},
 "layer": [
  {"transform": [{"filter": "datum.series == 'c1' || datum.series == 'c2'"}],
   "mark": {"type": "line", "strokeDash": [10, 8], "strokeWidth": 3, "color": "black", "clip": true},
   "encoding": {
    "x": {"field": "E", "type": "quantitative", "scale": {"domain": [57, 47.1], "nice": false, "zero": false},
      "axis": {"orient": "bottom", "values": [56, 54, 52, 50, 48], "format": "d", "ticks": false, "labelPadding": 20, "labelFontSize": 32, "labelFontWeight": "bold", "labelFont": "DejaVu Sans", "labelFlush": false, "labelOverlap": false, "title": null}},
    "y": {"field": "I", "type": "quantitative", "scale": {"domain": [0, 898], "nice": false, "zero": false},
      "axis": {"orient": "left", "labels": false, "ticks": false, "title": null}},
    "detail": [{"field": "theta"}, {"field": "series"}]
   }},
  {"transform": [{"filter": "datum.series == 'bg'"}],
   "mark": {"type": "line", "strokeWidth": 2, "color": "black", "clip": true},
   "encoding": {
    "x": {"field": "E", "type": "quantitative", "axis": {"orient": "top", "values": [57, 48], "labels": false, "ticks": false, "title": null}},
    "y": {"field": "I", "type": "quantitative", "axis": null},
    "detail": {"field": "theta"}
   }},
  {"transform": [{"filter": "datum.series == 'data'"}],
   "mark": {"type": "line", "strokeWidth": 5, "color": "black", "strokeJoin": "round", "clip": true},
   "encoding": {
    "x": {"field": "E", "type": "quantitative", "axis": null},
    "y": {"field": "I", "type": "quantitative", "axis": null},
    "detail": {"field": "theta"}
   }},
  {"data": {"name": "Mgticks"}, "transform": [{"filter": "datum.side == 'bottom'"}],
   "mark": {"type": "point", "shape": "M0,0L0,-1", "size": 400, "strokeWidth": 3, "filled": false, "color": "black", "opacity": 1},
   "encoding": {"x": {"field": "E", "type": "quantitative", "axis": null}, "y": {"field": "I", "type": "quantitative", "axis": null}}},
  {"data": {"name": "Mgticks"}, "transform": [{"filter": "datum.side == 'top'"}],
   "mark": {"type": "point", "shape": "M0,0L0,1", "size": 400, "strokeWidth": 3, "filled": false, "color": "black", "opacity": 1},
   "encoding": {"x": {"field": "E", "type": "quantitative", "axis": null}, "y": {"field": "I", "type": "quantitative", "axis": null}}},
  {"data": {"name": "Mglab"}, "transform": [{"filter": "datum.kind == 'peak'"}],
   "mark": {"type": "text", "fontSize": 28, "fontWeight": "bold", "font": "DejaVu Sans", "align": "center", "baseline": "middle", "color": "black"},
   "encoding": {"x": {"field": "E", "type": "quantitative", "axis": null}, "y": {"field": "I", "type": "quantitative", "axis": null}, "text": {"field": "text"}}},
  {"data": {"name": "Mglab"}, "transform": [{"filter": "datum.kind == 'sup'"}],
   "mark": {"type": "text", "fontSize": 22, "fontWeight": "bold", "font": "DejaVu Sans", "align": "center", "baseline": "middle", "color": "black"},
   "encoding": {"x": {"field": "E", "type": "quantitative", "axis": null}, "y": {"field": "I", "type": "quantitative", "axis": null}, "text": {"field": "text"}}},
  {"data": {"name": "Mglab"}, "transform": [{"filter": "datum.kind == 'theta'"}],
   "mark": {"type": "text", "fontSize": 36, "font": "DejaVu Sans", "align": "left", "baseline": "middle", "color": "black"},
   "encoding": {"x": {"field": "E", "type": "quantitative", "axis": null}, "y": {"field": "I", "type": "quantitative", "axis": null}, "text": {"field": "text"}}}
 ]
}
]
}
